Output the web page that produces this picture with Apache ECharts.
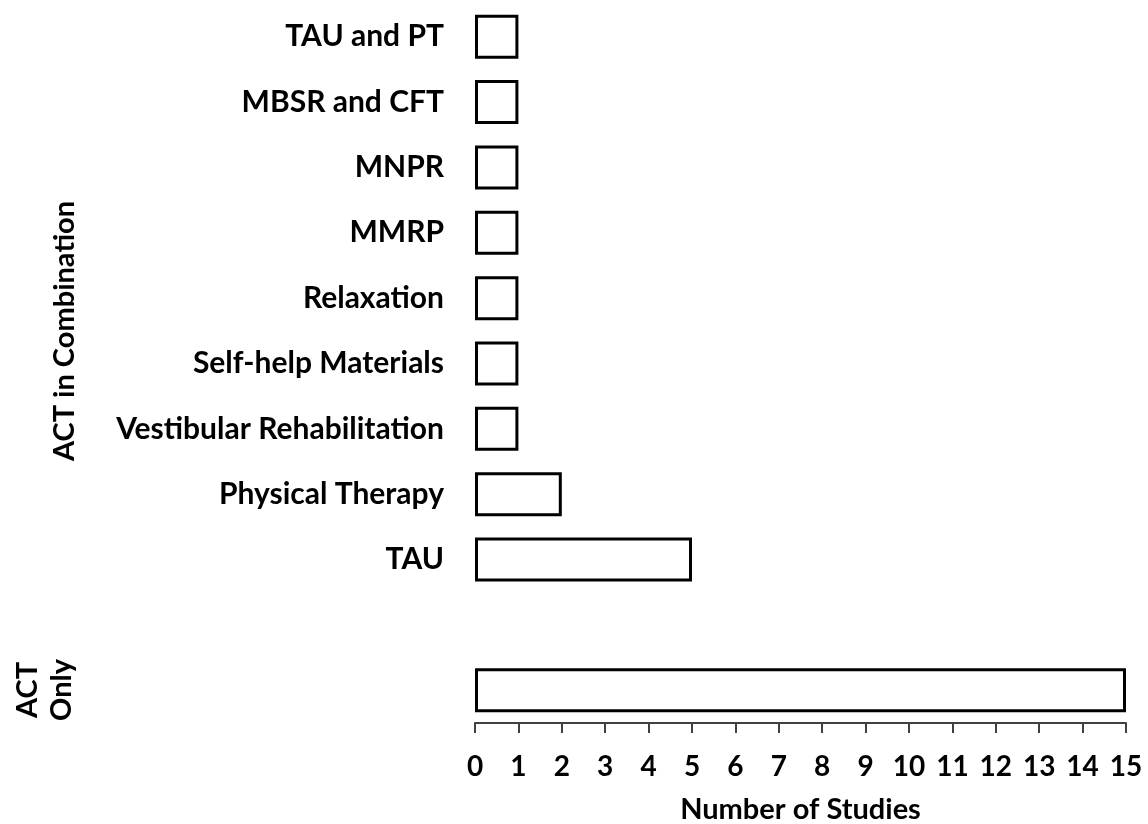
<!DOCTYPE html>
<html>
<head>
<meta charset="utf-8">
<script src="https://cdn.jsdelivr.net/npm/echarts@6/dist/echarts.min.js"></script>
<style>
html,body{margin:0;padding:0;background:#fff;}
#chart{width:1148px;height:824px;}
</style>
</head>
<body>
<div id="chart"></div>
<script>
// categories bottom to top (blank = gap / group label shown separately)
const categories = ["ACT Only", "gap", "TAU", "Physical Therapy", "Vestibular Rehabilitation", "Self-help Materials", "Relaxation", "MMRP", "MNPR", "MBSR and CFT", "TAU and PT"];
const values = [15, null, 5, 2, 1, 1, 1, 1, 1, 1, 1];
const xTicks = [0, 15, 1];
const hiddenLabels = ["ACT Only", "gap"];

const chart = echarts.init(document.getElementById('chart'));
const FONT = 'Lato';
const option = {
  animation: false,
  backgroundColor: '#fff',
  grid: { left: 475, right: 22, top: 4, bottom: 101, containLabel: false, outerBoundsMode: 'none' },
  xAxis: {
    type: 'value', min: xTicks[0], max: xTicks[1], interval: xTicks[2],
    name: 'Number of Studies', nameLocation: 'middle', nameGap: 72,
    nameTextStyle: { fontFamily: FONT, fontWeight: 'bold', fontSize: 29, color: '#000' },
    axisLine: { show: true, lineStyle: { color: '#404040', width: 2 } },
    axisTick: { show: true, length: 10, lineStyle: { color: '#404040', width: 2 } },
    axisLabel: { fontFamily: FONT, fontWeight: 'bold', fontSize: 28, color: '#000', margin: 30 },
    splitLine: { show: false }
  },
  yAxis: {
    type: 'category', data: categories,
    axisLine: { show: false }, axisTick: { show: false },
    axisLabel: {
      fontFamily: FONT, fontWeight: 'bold', fontSize: 30, color: '#000', margin: 31,
      formatter: v => hiddenLabels.includes(v) ? '' : v
    }
  },
  series: [{
    type: 'bar', data: values, barWidth: 44,
    itemStyle: { color: '#fff', borderColor: '#000', borderWidth: 3 }
  }],
  graphic: [
    { type: 'text', x: 65, y: 331, rotation: Math.PI / 2,
      style: { text: 'ACT in Combination', font: 'bold 29px Lato', fill: '#000', align: 'center', verticalAlign: 'middle' } },
    { type: 'text', x: 45, y: 690, rotation: Math.PI / 2,
      style: { text: 'ACT\nOnly', font: 'bold 29px Lato', fill: '#000', align: 'center', verticalAlign: 'middle', lineHeight: 34 } }
  ]
};
chart.setOption(option);
</script>
</body>
</html>
